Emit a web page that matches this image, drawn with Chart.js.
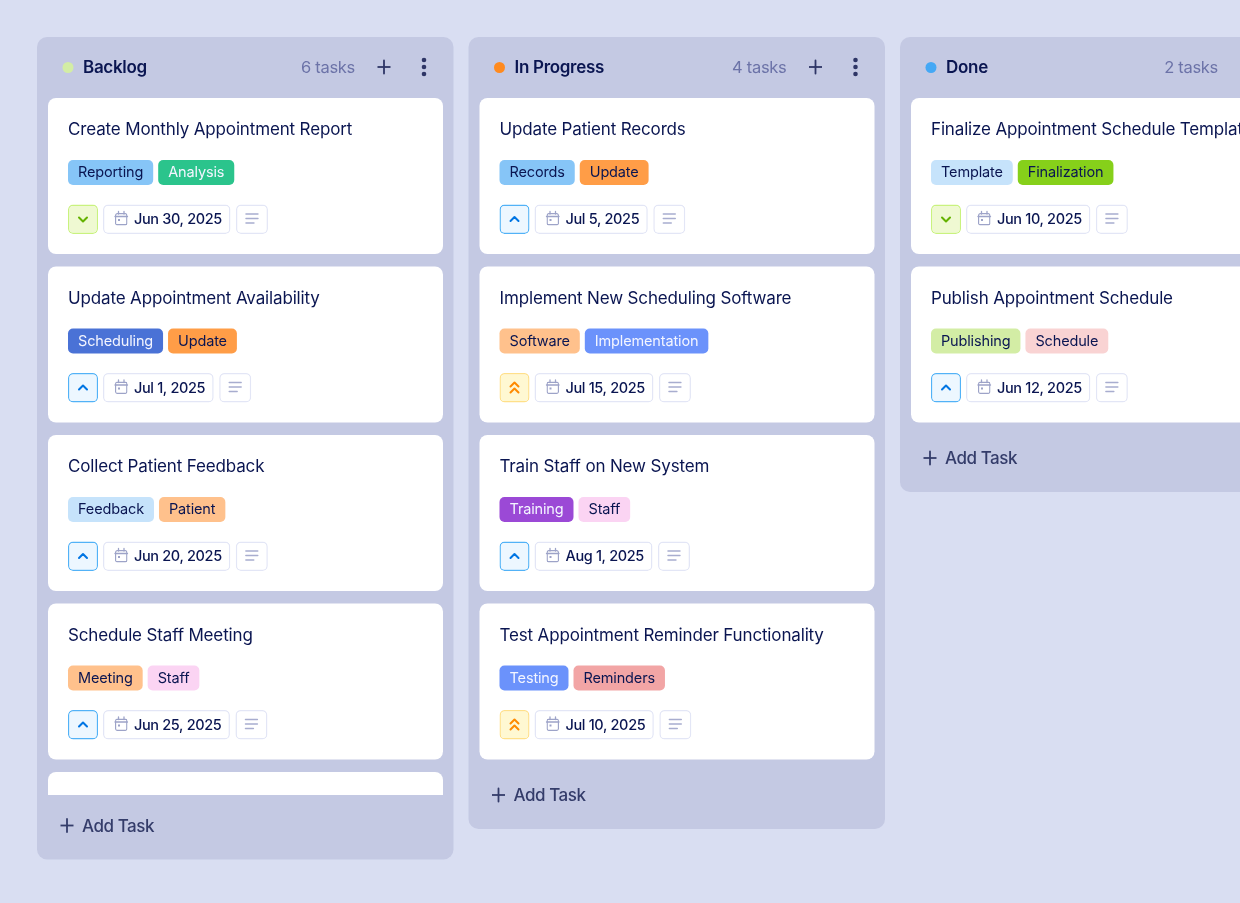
<!DOCTYPE html>
<html>
<head>
<meta charset="utf-8">
<title>Task board</title>
<style>
  html, body { margin: 0; padding: 0; background: #d9def2; overflow: hidden; }
  canvas { display: block; }
</style>
<script src="https://cdn.jsdelivr.net/npm/chart.js@4"></script>
</head>
<body>
<canvas id="board" width="1240" height="903"></canvas>
<script>
// ─── Board data ─────────────────────────────────────────
const columnNames = ['Backlog', 'In Progress', 'Done'];
const columnTaskCounts = [6, 4, 2];

const backlogTitles = ['Create Monthly Appointment Report', 'Update Appointment Availability', 'Collect Patient Feedback', 'Schedule Staff Meeting', ''];
const backlogTags = [['Reporting', 'Analysis'], ['Scheduling', 'Update'], ['Feedback', 'Patient'], ['Meeting', 'Staff'], []];
const backlogPriorities = ['low', 'medium', 'medium', 'medium', ''];
const backlogDates = ['Jun 30, 2025', 'Jul 1, 2025', 'Jun 20, 2025', 'Jun 25, 2025', ''];

const progressTitles = ['Update Patient Records', 'Implement New Scheduling Software', 'Train Staff on New System', 'Test Appointment Reminder Functionality'];
const progressTags = [['Records', 'Update'], ['Software', 'Implementation'], ['Training', 'Staff'], ['Testing', 'Reminders']];
const progressPriorities = ['medium', 'high', 'medium', 'high'];
const progressDates = ['Jul 5, 2025', 'Jul 15, 2025', 'Aug 1, 2025', 'Jul 10, 2025'];

const doneTitles = ['Finalize Appointment Schedule Template', 'Publish Appointment Schedule'];
const doneTags = [['Template', 'Finalization'], ['Publishing', 'Schedule']];
const donePriorities = ['low', 'medium'];
const doneDates = ['Jun 10, 2025', 'Jun 12, 2025'];

const columnTitles = [backlogTitles, progressTitles, doneTitles];
const columnTags = [backlogTags, progressTags, doneTags];
const columnPriorities = [backlogPriorities, progressPriorities, donePriorities];
const columnDates = [backlogDates, progressDates, doneDates];

// ─── Styles ─────────────────────────────────────────────
const NAVY = '#0a1551';
const LIGHT = '#f3f5ff';
const columnDots = ['#d3eda5', '#ff8a1f', '#45a8f5'];
const tagStyles = {
  Reporting: ['#86c5f7', NAVY], Analysis: ['#2bc48c', LIGHT], Scheduling: ['#4a72d6', LIGHT],
  Update: ['#ff9d47', NAVY], Feedback: ['#c6e3fb', NAVY], Patient: ['#ffc18c', NAVY],
  Meeting: ['#ffc18c', NAVY], Staff: ['#fbd4f3', NAVY], Records: ['#86c5f7', NAVY],
  Software: ['#ffc18c', NAVY], Implementation: ['#6b92fb', LIGHT], Training: ['#9b49d6', LIGHT],
  Testing: ['#6b92fb', LIGHT], Reminders: ['#f2a5a5', NAVY], Template: ['#c6e3fb', NAVY],
  Finalization: ['#86d01a', NAVY], Publishing: ['#d3eda5', NAVY], Schedule: ['#f9d3d3', NAVY],
};
const priorityStyles = {
  low: { bg: '#eff9d2', border: '#c9f27f', icon: '#64b200' },
  medium: { bg: '#edf7ff', border: '#52b2f7', icon: '#0075e3' },
  high: { bg: '#fff8d2', border: '#ffe08a', icon: '#ff8a00' },
};
const FAMILY = 'Inter, sans-serif';
const FONT_TITLE = { font: `400 17px ${FAMILY}`, spacing: '-0.15px' };
const FONT_HEAD = { font: `600 17px ${FAMILY}`, spacing: '-0.3px' };
const FONT_COUNT = { font: `400 16.5px ${FAMILY}`, spacing: '-0.3px' };
const FONT_ADD = { font: `500 17px ${FAMILY}`, spacing: '-0.45px' };
const FONT_TAG = { font: `400 14.5px ${FAMILY}`, spacing: '-0.15px' };
const FONT_DATE = { font: `500 14.5px ${FAMILY}`, spacing: '-0.35px' };

// ─── Layout ─────────────────────────────────────────────
const COL_LEFT = 37;
const COL_PITCH = 431.5;
const COL_WIDTH = 416.5;
const CARD_TOP = 98;
const CARD_PITCH = 168.5;
const CARD_HEIGHT = 156;
const LIST_BOTTOM = 795;
const CONTROL_TOP = 106.5;
const CONTROL_HEIGHT = 29.5;

const datasets = [];
const labels = [];
const measure = document.createElement('canvas').getContext('2d');

function textWidth(text, style) {
  measure.font = style.font;
  measure.letterSpacing = style.spacing;
  return measure.measureText(text).width;
}

// later marks sit on top: chart.js paints lower order last
function rect(x0, x1, y0, y1, color, radius, border, borderColor) {
  datasets.push({
    type: 'bar',
    data: [{ x: (x0 + x1) / 2, y: [y0, y1] }],
    barThickness: x1 - x0,
    grouped: false,
    backgroundColor: color,
    borderColor: borderColor || color,
    borderWidth: border || 0,
    borderSkipped: false,
    borderRadius: radius,
    inflateAmount: 0,
    order: -datasets.length,
  });
}

function stroke(points, color, width, cap) {
  datasets.push({
    type: 'line',
    data: points.map(([x, y]) => ({ x, y })),
    borderColor: color,
    borderWidth: width,
    borderCapStyle: cap || 'round',
    borderJoinStyle: 'round',
    pointRadius: 0,
    tension: 0,
    order: -datasets.length,
  });
}

function label(text, x, y, style, color, align) {
  labels.push({ text, x, y, style, color, align: align || 'left' });
}

function plus(cx, cy, size, color) {
  stroke([[cx - size, cy], [cx + size, cy]], color, 1.8, 'butt');
  stroke([[cx, cy - size], [cx, cy + size]], color, 1.8, 'butt');
}

function chevron(cx, cy, dir, color) {
  stroke([[cx - 4, cy - dir * 2], [cx, cy + dir * 2], [cx + 4, cy - dir * 2]], color, 2);
}

function priorityBadge(x, top, kind) {
  const s = priorityStyles[kind];
  rect(x, x + 30, top, top + CONTROL_HEIGHT, s.bg, 5, 1.4, s.border);
  const cx = x + 15, cy = top + 14.5;
  if (kind === 'low') chevron(cx, cy + 0.5, 1, s.icon);
  if (kind === 'medium') chevron(cx, cy, -1, s.icon);
  if (kind === 'high') {
    chevron(cx, cy - 3, -1, s.icon);
    chevron(cx, cy + 3, -1, s.icon);
  }
}

function dateBox(x, top, date) {
  const w = 31 + textWidth(date, FONT_DATE) + 8.5;
  rect(x, x + w, top, top + CONTROL_HEIGHT, '#ffffff', 5, 1.5, '#e3e6f6');
  const ix = x + 12, iy = top + 7;
  rect(ix, ix + 12.5, iy + 1.5, iy + 14, '#ffffff', 2, 1.4, '#9da3c8');
  stroke([[ix, iy + 5], [ix + 12.5, iy + 5]], '#9da3c8', 1.3);
  stroke([[ix + 3.5, iy], [ix + 3.5, iy + 2.5]], '#9da3c8', 1.3);
  stroke([[ix + 9, iy], [ix + 9, iy + 2.5]], '#9da3c8', 1.3);
  rect(ix + 3, ix + 5, iy + 7.5, iy + 9.5, '#9da3c8', 0);
  label(date, x + 31, top + 19.5, FONT_DATE, NAVY);
  return x + w;
}

function noteBox(x, top) {
  rect(x, x + 32, top, top + CONTROL_HEIGHT, '#ffffff', 5, 1.5, '#e3e6f6');
  stroke([[x + 10, top + 9.5], [x + 22, top + 9.5]], '#a8adcf', 1.4);
  stroke([[x + 10, top + 14], [x + 22, top + 14]], '#a8adcf', 1.4);
  stroke([[x + 10, top + 18.5], [x + 18, top + 18.5]], '#a8adcf', 1.4);
}

function card(left, top, title, tags, priority, date) {
  const bottom = Math.min(top + CARD_HEIGHT, LIST_BOTTOM);
  const cut = bottom < top + CARD_HEIGHT;
  rect(left, left + 395, top, bottom, '#ffffff', cut ? { topLeft: 8, topRight: 8, bottomLeft: 0, bottomRight: 0 } : 8);
  if (!title) return;
  const x = left + 20;
  label(title, x, top + 37, FONT_TITLE, NAVY);
  let tx = x;
  tags.forEach(tag => {
    const w = textWidth(tag, FONT_TAG) + 20;
    rect(tx, tx + w, top + 62, top + 87, tagStyles[tag][0], 5);
    label(tag, tx + 10, top + 79, FONT_TAG, tagStyles[tag][1]);
    tx += w + 5;
  });
  priorityBadge(x, top + CONTROL_TOP, priority);
  const end = dateBox(x + 35, top + CONTROL_TOP, date);
  noteBox(end + 5.5, top + CONTROL_TOP);
}

columnNames.forEach((name, c) => {
  const left = COL_LEFT + c * COL_PITCH;
  const titles = columnTitles[c];
  const listEnd = CARD_TOP + titles.length * CARD_PITCH - 12.5;
  const cut = listEnd > LIST_BOTTOM;
  const bottom = cut ? LIST_BOTTOM + 64.5 : listEnd + 69.5;
  rect(left, left + COL_WIDTH, COL_LEFT, bottom, '#c4c9e3', 10);

  rect(left + 25.5, left + 36.5, 62, 73, columnDots[c], 6);
  label(name, left + 46, 73, FONT_HEAD, NAVY);
  label(`${columnTaskCounts[c]} tasks`, left + 318, 73, FONT_COUNT, '#6c73a8', 'right');
  plus(left + 347, 67, 6.5, '#2e3566');
  [60, 67, 74].forEach(y => rect(left + 384.7, left + 389.3, y - 2.3, y + 2.3, '#2e3566', 3));

  titles.forEach((title, i) => {
    card(left + 11, CARD_TOP + i * CARD_PITCH, title, columnTags[c][i], columnPriorities[c][i], columnDates[c][i]);
  });

  plus(left + 30, bottom - 34, 6.5, '#343c6a');
  label('Add Task', left + 45, bottom - 28, FONT_ADD, '#343c6a');
});

// ─── Chart ──────────────────────────────────────────────
const boardText = {
  id: 'boardText',
  afterDatasetsDraw(chart) {
    const { ctx, scales: { x, y } } = chart;
    ctx.save();
    labels.forEach(l => {
      ctx.font = l.style.font;
      ctx.letterSpacing = l.style.spacing;
      ctx.fillStyle = l.color;
      ctx.textAlign = l.align;
      ctx.textBaseline = 'alphabetic';
      ctx.fillText(l.text, x.getPixelForValue(l.x), y.getPixelForValue(l.y));
    });
    ctx.restore();
  },
};

new Chart(document.getElementById('board'), {
  type: 'bar',
  data: { datasets },
  plugins: [boardText],
  options: {
    responsive: false,
    animation: false,
    layout: { padding: 0 },
    events: [],
    plugins: { legend: { display: false }, tooltip: { enabled: false } },
    scales: {
      x: { type: 'linear', display: false, offset: false, min: 0, max: 1240 },
      y: { type: 'linear', display: false, reverse: true, min: 0, max: 903 },
    },
  },
});
</script>
</body>
</html>
